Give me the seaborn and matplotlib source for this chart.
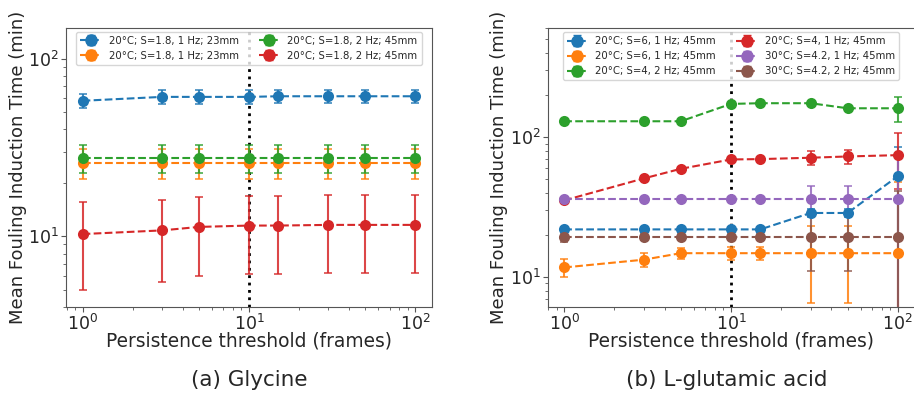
import numpy as np
import pandas as pd
import matplotlib
matplotlib.use("Agg")
import matplotlib.pyplot as plt
import seaborn as sns

sns.set_style("ticks")
plt.rcParams['font.family'] = ['DejaVu Sans']

thresholds = [1, 3, 5, 10, 15, 30, 50, 100]

# (a) Glycine
gly_labels = ["20°C; S=1.8, 1 Hz; 23mm", "20°C; S=1.8, 1 Hz; 23mm",
              "20°C; S=1.8, 2 Hz; 45mm", "20°C; S=1.8, 2 Hz; 45mm"]
gly_blue = [58, 61, 61, 61, 61.5, 61.5, 61.5, 61.5]
gly_blue_err = [5.5, 5.5, 5.5, 5.5, 5.5, 5.5, 5.5, 5.5]
gly_orange = [26, 26, 26, 26, 26, 26, 26, 26]
gly_orange_err = [5, 5, 5, 5, 5, 5, 5, 5]
gly_green = [27.6, 27.6, 27.6, 27.6, 27.6, 27.6, 27.6, 27.6]
gly_green_err = [5, 5, 5, 5, 5, 5, 5, 5]
gly_red = [10.3, 10.8, 11.3, 11.5, 11.5, 11.6, 11.6, 11.6]
gly_red_err = [5.3, 5.3, 5.3, 5.4, 5.4, 5.4, 5.4, 5.4]

# (b) L-glutamic acid
glu_labels = ["20°C; S=6, 1 Hz; 45mm", "20°C; S=6, 1 Hz; 45mm",
              "20°C; S=4, 2 Hz; 45mm", "20°C; S=4, 1 Hz; 45mm",
              "30°C; S=4.2, 1 Hz; 45mm", "30°C; S=4.2, 2 Hz; 45mm"]
glu_blue = [21.9, 21.9, 21.9, 21.9, 21.9, 28.7, 28.7, 52.6]
glu_blue_err = [1, 1, 1, 1, 1, 2, 2, 33]
glu_orange = [11.7, 13.3, 14.8, 14.8, 14.8, 14.8, 14.8, 14.8]
glu_orange_err = [1.7, 1.5, 1.4, 1.6, 1.5, 8.3, 8.3, 33]
glu_green = [130, 130, 130, 173, 175, 175, 161, 161]
glu_green_err = [3, 3, 3, 3, 3, 3, 3, 32]
glu_red = [35.3, 50.7, 59.4, 69.3, 69.7, 71.3, 72.8, 74.4]
glu_red_err = [1.5, 2, 2, 2, 2, 8, 8, 32]
glu_purple = [36.3, 36.3, 36.3, 36.3, 36.3, 36.3, 36.3, 36.3]
glu_purple_err = [1, 1, 1, 1, 1, 8.4, 8.4, 38]
glu_brown = [19.3, 19.3, 19.3, 19.3, 19.3, 19.3, 19.3, 19.3]
glu_brown_err = [1.5, 1, 1, 1, 1, 8.3, 8.3, 22]

palette = sns.color_palette("tab10")

fig = plt.figure(figsize=(9.14, 3.96), dpi=100)
W, H = 914, 396
ax1 = fig.add_axes([66 / W, (H - 307) / H, (432 - 66) / W, (307 - 27.5) / H])
ax2 = fig.add_axes([547.5 / W, (H - 307) / H, (914.5 - 547.5) / W, (307 - 28) / H])


def draw(ax, series, labels):
    for i, ((y, e), lab) in enumerate(zip(series, labels)):
        df = pd.DataFrame({"x": thresholds, "y": y})
        c = palette[i]
        sns.lineplot(data=df, x="x", y="y", ax=ax, color=c, linestyle="--",
                     marker="o", markersize=8, markeredgewidth=0,
                     linewidth=1.5, legend=False, errorbar=None, zorder=3)
        ax.errorbar(thresholds, y, yerr=e, fmt="none", ecolor=c,
                    elinewidth=1.5, capsize=3, capthick=1.2, alpha=0.85,
                    zorder=2)
        ax.errorbar([np.nan], [np.nan], yerr=[np.nan], fmt="o--", color=c,
                    markersize=8, linewidth=1.5, capsize=3, label=lab)


draw(ax1, [(gly_blue, gly_blue_err), (gly_orange, gly_orange_err),
           (gly_green, gly_green_err), (gly_red, gly_red_err)], gly_labels)
draw(ax2, [(glu_blue, glu_blue_err), (glu_orange, glu_orange_err),
           (glu_green, glu_green_err), (glu_red, glu_red_err),
           (glu_purple, glu_purple_err), (glu_brown, glu_brown_err)], glu_labels)

for ax, ylim in [(ax1, (4.0, 150)), (ax2, (6.1, 604))]:
    ax.set_xscale("log")
    ax.set_yscale("log")
    ax.set_xlim(10 ** -0.1, 10 ** 2.1)
    ax.set_ylim(*ylim)
    ax.axvline(10, color="black", linestyle=":", linewidth=2, zorder=1)
    ax.set_xlabel("Persistence threshold (frames)", fontsize=13.4, labelpad=-1.5)
    ax.set_ylabel("Mean Fouling Induction Time (min)", fontsize=13, labelpad=1)
    ax.tick_params(axis="both", which="major", labelsize=12.5, length=3.5,
                   pad=1.5, direction="out", color="#555555")
    ax.tick_params(axis="both", which="minor", length=2, color="#555555")
    for s in ax.spines.values():
        s.set_color("#555555")
        s.set_visible(True)
    ax.legend(ncol=2, loc="upper center", fontsize=7.3, framealpha=0.8,
              borderaxespad=0.4)

fig.text(249 / W, 1 - 380 / H, "(a) Glycine", ha="center", va="center",
         fontsize=15.5)
fig.text(727 / W, 1 - 380 / H, "(b) L-glutamic acid", ha="center",
         va="center", fontsize=15.5)

fig.savefig("out.png", dpi=100)
